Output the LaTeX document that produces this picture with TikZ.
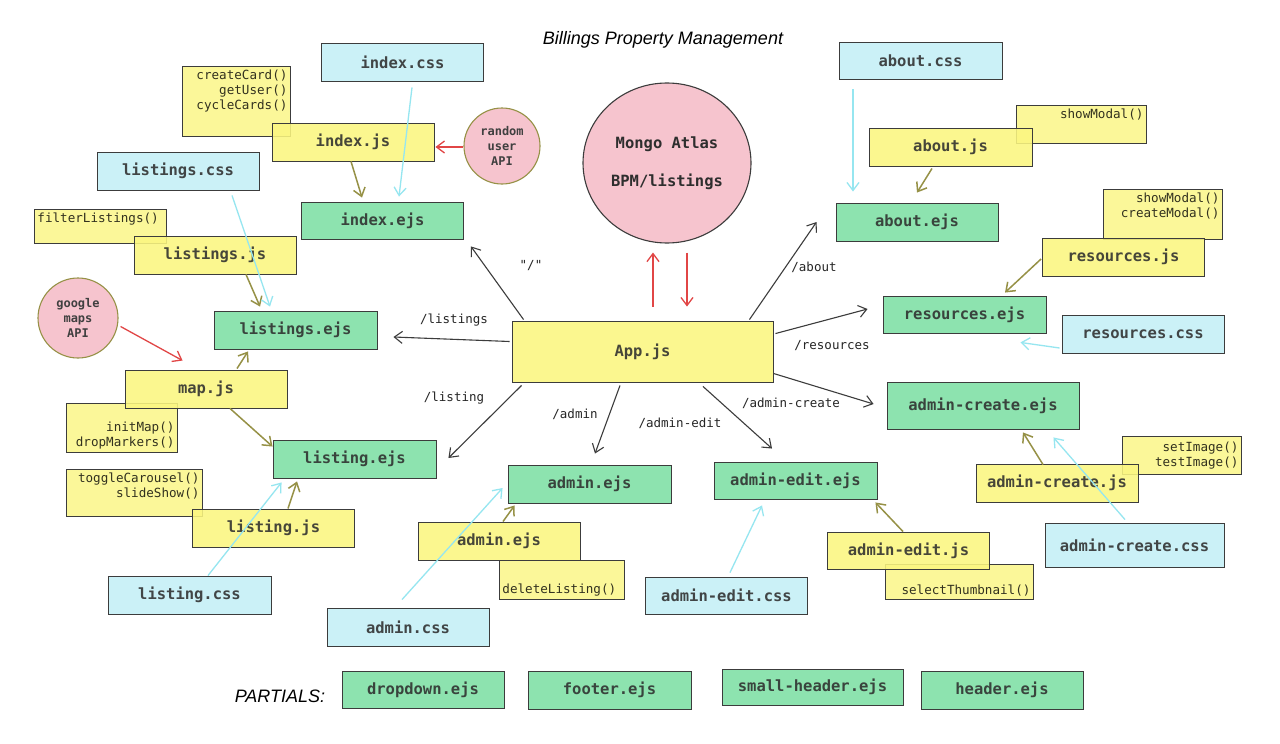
\documentclass[tikz,border=0pt]{standalone}
\usepackage{fontspec}
\setmainfont{Liberation Sans}
\newfontfamily\mono{DejaVu Sans Mono}
\usetikzlibrary{arrows.meta,shapes.geometric}
\definecolor{ylw}{RGB}{251,246,128}
\definecolor{grn}{RGB}{126,224,164}
\definecolor{cyn}{RGB}{196,240,246}
\definecolor{pnk}{RGB}{246,196,206}
\definecolor{olv}{RGB}{150,145,70}
\definecolor{cyl}{RGB}{150,230,240}
\definecolor{rd}{RGB}{225,70,70}
\definecolor{bord}{RGB}{60,60,60}
\definecolor{cbord}{RGB}{150,145,70}
\tikzset{
  basebox/.style={draw=bord, line width=0.9pt, fill opacity=0.88, minimum width=162pt, minimum height=38pt, inner sep=0pt, font=\mono\bfseries\fontsize{15.5}{18}\selectfont, text=black!82},
  jsbox/.style={basebox, fill=ylw},
  cssbox/.style={basebox, fill=cyn},
  ejsbox/.style={basebox, fill=grn},
  fnbox/.style={draw=bord, line width=0.9pt, fill=ylw, fill opacity=0.8, inner sep=3pt, anchor=north west, font=\mono\fontsize{12.6}{15}\selectfont, text=black},
  circ/.style={circle, draw=cbord, line width=1.1pt, fill=pnk, inner sep=0pt, align=center, font=\mono\bfseries\fontsize{12}{15}\selectfont, text=black!75},
  tip/.style={-{Straight Barb[length=8pt,width=12pt]}},
  blk/.style={tip, draw=bord, line width=1.1pt},
  olive/.style={tip, draw=olv, line width=1.5pt},
  cyarr/.style={tip, draw=cyl, line width=1.3pt},
  redarr/.style={tip, draw=rd, line width=1.3pt},
  route/.style={font=\mono\fontsize{12.5}{14}\selectfont, text=black!85},
}
\begin{document}
\begin{tikzpicture}[x=1pt,y=-1pt]
\useasboundingbox[fill=white] (0,0) rectangle (1280,744);

% title
\node (title) at (663,40) {\fontsize{18}{20}\selectfont\itshape Billings Property Management};

% function boxes (drawn first)
\node[fnbox, minimum width=108pt, minimum height=70pt] (fcc) at (182,66) {\parbox[c][64pt][t]{102pt}{\raggedleft createCard()\\getUser()\\cycleCards()}};
\node[fnbox, minimum width=132pt, minimum height=34pt] (ffl) at (34,209) {\parbox[c][28pt][t]{126pt}{\raggedright filterListings()}};
\node[fnbox, minimum width=111pt, minimum height=46pt] (fim) at (66,403) {\parbox[c][40pt][b]{105pt}{\raggedleft initMap()\\dropMarkers()}};
\node[fnbox, minimum width=136pt, minimum height=47pt] (ftc) at (66,469) {\parbox[c][41pt][t]{130pt}{\raggedleft toggleCarousel()\\slideShow()}};
\node[fnbox, minimum width=125pt, minimum height=36pt] (fdl) at (499,560) {\parbox[c][30pt][b]{119pt}{\raggedright deleteListing()}};
\node[fnbox, minimum width=130pt, minimum height=38pt] (fsm) at (1016,105) {\parbox[c][32pt][t]{124pt}{\raggedleft showModal()}};
\node[fnbox, minimum width=119pt, minimum height=50pt] (fcm) at (1103,189) {\parbox[c][44pt][t]{113pt}{\raggedleft showModal()\\createModal()}};
\node[fnbox, minimum width=119pt, minimum height=38pt] (fsi) at (1122,436) {\parbox[c][32pt][c]{113pt}{\raggedleft setImage()\\testImage()}};
\node[fnbox, minimum width=148pt, minimum height=33pt] (fst) at (885,564) {\parbox[c][27pt][b]{142pt}{\raggedleft selectThumbnail()}};

% main boxes
\node[cssbox] (idxc) at (402.5,62) {index.css};
\node[jsbox]  (idxj) at (353,142) {index.js};
\node[ejsbox, minimum height=37pt] (idxe) at (382.5,220.5) {index.ejs};
\node[cssbox] (lsc) at (178,171) {listings.css};
\node[jsbox]  (lsj) at (215,255) {listings.js};
\node[ejsbox, minimum width=163pt] (lse) at (295.5,330) {listings.ejs};
\node[jsbox]  (mapj) at (206,389) {map.js};
\node[ejsbox, minimum width=163pt] (lge) at (354.5,459) {listing.ejs};
\node[jsbox]  (lgj) at (273.5,528) {listing.js};
\node[cssbox, minimum width=163pt] (lgc) at (189.5,595) {listing.css};
\node[cssbox] (adc) at (408,627) {admin.css};
\node[jsbox]  (adj) at (499,541) {admin.ejs};
\node[ejsbox, minimum width=163pt] (adg) at (589.5,484) {admin.ejs};
\node[jsbox, minimum width=261pt, minimum height=61pt] (app) at (642.5,351.5) {App.js};
\node[cssbox, minimum width=163pt, minimum height=37pt] (abc) at (920.5,60.5) {about.css};
\node[jsbox, minimum width=163pt] (abj) at (950.5,147) {about.js};
\node[ejsbox] (abe) at (917,222) {about.ejs};
\node[jsbox]  (rsj) at (1123.5,257) {resources.js};
\node[ejsbox, minimum width=163pt, minimum height=37pt] (rse) at (964.5,314.5) {resources.ejs};
\node[cssbox] (rsc) at (1143,334) {resources.css};
\node[ejsbox, minimum width=192pt, minimum height=47pt] (ace) at (983,405.5) {admin-create.ejs};
\node[jsbox]  (acj) at (1057,483) {admin-create.js};
\node[cssbox, minimum width=179pt, minimum height=44pt] (acc) at (1134.5,545) {admin-create.css};
\node[ejsbox, minimum width=163pt, minimum height=37pt] (aee) at (795.5,480.5) {admin-edit.ejs};
\node[jsbox, minimum height=37pt]  (aej) at (908.5,550.5) {admin-edit.js};
\node[cssbox, minimum height=37pt] (aec) at (726.5,595.5) {admin-edit.css};

% circles
\node[circ, minimum size=76pt] (rnd) at (502,146) {random\\user\\API};
\node[circ, minimum size=80pt] (gm) at (78,318) {google\\maps\\API};
\node[ellipse, draw=bord, line width=1.1pt, fill=pnk, minimum width=168pt, minimum height=160pt, inner sep=0pt, align=center, font=\mono\bfseries\fontsize{15.5}{18}\selectfont, text=black!82] (mongo) at (667,163) {Mongo Atlas\\[20pt]BPM/listings};

% partials
\node (partials) at (280,696) {\fontsize{18}{20}\selectfont\itshape PARTIALS:};
\node[ejsbox, minimum height=37pt] (pdd) at (423,689.5) {dropdown.ejs};
\node[ejsbox, minimum width=163pt] (pft) at (609.5,690) {footer.ejs};
\node[ejsbox, minimum width=181pt, minimum height=36pt] (psh) at (812.5,687) {small-header.ejs};
\node[ejsbox] (phd) at (1002,690) {header.ejs};

% routes (black)
\draw[blk] ([xshift=12pt,yshift=1pt]app.north west) -- ([xshift=7pt,yshift=-7pt]idxe.south east);
\draw[blk] ([xshift=-2pt,yshift=10pt]app.west) -- ([xshift=16pt,yshift=-7pt]lse.east);
\draw[blk] ([xshift=10pt,yshift=-3pt]app.south west) -- ([xshift=12pt,yshift=1pt]lge.east);
\draw[blk] ([xshift=-22.5pt,yshift=-3pt]app.south) -- ([xshift=5.5pt,yshift=11pt]adg.north);
\draw[blk] ([xshift=60.5pt,yshift=-4pt]app.south) -- ([xshift=-23.5pt,yshift=13pt]aee.north);
\draw[blk] ([yshift=9pt]app.south east) -- ([xshift=-13pt,yshift=1.5pt]ace.west);
\draw[blk] ([xshift=2pt,yshift=-13pt]app.north east) -- ([xshift=-15pt,yshift=5.5pt]rse.west);
\draw[blk] ([xshift=-24pt,yshift=1pt]app.north east) -- ([xshift=-19pt]abe.west);

\node[route] (l1) at (531,266) {"/"};
\node[route] (l2) at (454,320) {/listings};
\node[route] (l3) at (454,398) {/listing};
\node[route] (l4) at (575,414) {/admin};
\node[route] (l5) at (680,423) {/admin-edit};
\node[route] (l6) at (791,403) {/admin-create};
\node[route] (l7) at (832,346) {/resources};
\node[route] (l8) at (814,267) {/about};

% js -> ejs (olive)
\draw[olive] ([xshift=-2pt]idxj.south) -- ([xshift=-20.5pt,yshift=4pt]idxe.north);
\draw[olive] ([xshift=31pt]lsj.south) -- ([xshift=-35.5pt,yshift=4pt]lse.north);
\draw[olive] ([xshift=31pt,yshift=1pt]mapj.north) -- ([xshift=-47.5pt,yshift=-2pt]lse.south);
\draw[olive] ([xshift=24pt]mapj.south) -- ([yshift=-7pt]lge.north west);
\draw[olive] ([xshift=14.5pt]lgj.north) -- ([xshift=-57.5pt,yshift=-3pt]lge.south);
\draw[olive] ([xshift=4pt]adj.north) -- ([xshift=7pt,yshift=-2pt]adg.south west);
\draw[olive] ([xshift=-18.5pt,yshift=-2pt]abj.south) -- ([yshift=10pt]abe.north);
\draw[olive] ([xshift=-1pt,yshift=-2pt]rsj.west) -- ([xshift=40.5pt,yshift=3pt]rse.north);
\draw[olive] ([xshift=-14pt,yshift=-1pt]acj.north) -- ([xshift=40pt,yshift=-3pt]ace.south);
\draw[olive] ([xshift=-5.5pt]aej.north) -- ([xshift=-2pt,yshift=-3pt]aee.south east);

% css -> ejs (cyan)
\draw[cyarr] ([xshift=9.5pt,yshift=-6pt]idxc.south) -- ([xshift=16.5pt,yshift=5pt]idxe.north);
\draw[cyarr] ([xshift=54pt,yshift=-5pt]lsc.south) -- ([xshift=-25.5pt,yshift=4pt]lse.north);
\draw[cyarr] ([xshift=18.5pt]lgc.north) -- ([xshift=9pt,yshift=-4pt]lge.south west);
\draw[cyarr] ([xshift=-6pt,yshift=8pt]adc.north) -- ([xshift=-5pt,yshift=-4pt]adg.west);
\draw[cyarr] ([xshift=3.5pt,yshift=4pt]aec.north) -- ([xshift=-33.5pt,yshift=-6pt]aee.south);
\draw[cyarr] ([xshift=-9.5pt,yshift=3pt]acc.north) -- ([xshift=-26pt,yshift=-8pt]ace.south east);
\draw[cyarr] ([xshift=-2pt,yshift=-14pt]rsc.west) -- ([xshift=-26pt,yshift=-9pt]rse.south east);
\draw[cyarr] ([xshift=-67.5pt,yshift=-10pt]abc.south) -- ([xshift=-64pt,yshift=11pt]abe.north);

% APIs and database (red)
\draw[redarr] ([yshift=-1pt]rnd.west) -- ([xshift=1pt,yshift=-5pt]idxj.east);
\draw[redarr, shorten <=3pt] (gm.-10) -- ([xshift=58pt,yshift=9pt]mapj.north west);
\draw[redarr] ([xshift=10.5pt,yshift=14pt]app.north) -- ([xshift=-14pt,yshift=-9pt]mongo.south);
\draw[redarr] ([xshift=20pt,yshift=-9pt]mongo.south) -- ([xshift=44.5pt,yshift=14pt]app.north);
\end{tikzpicture}
\end{document}
